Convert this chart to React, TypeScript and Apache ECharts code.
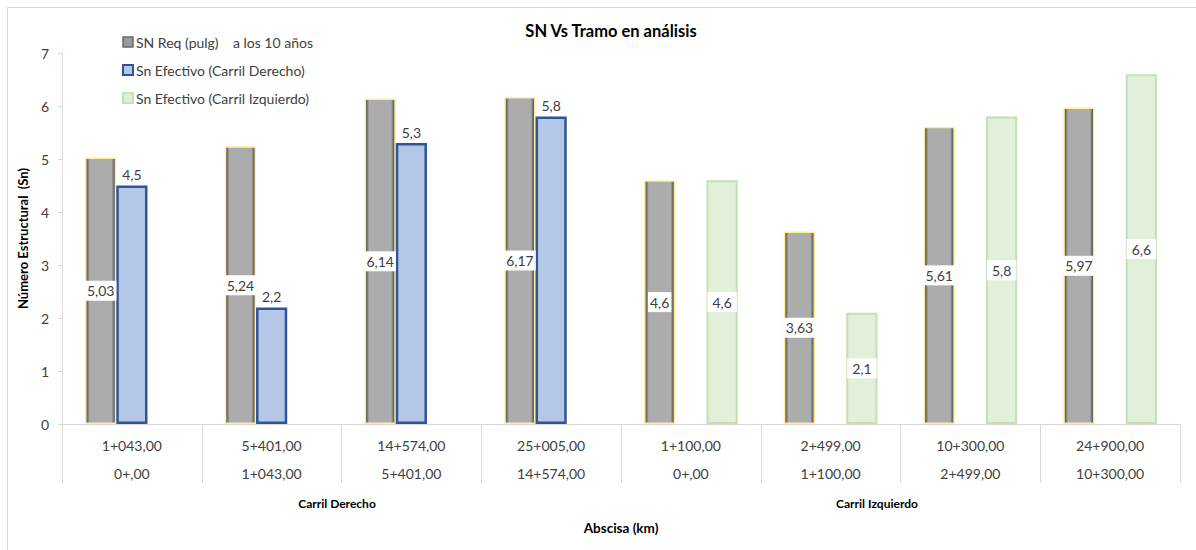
import React, { useEffect, useRef } from "react";
import * as echarts from "echarts";

// Tramo end (upper row) and start (lower row) for every section
const tramoFin = ["1+043,00", "5+401,00", "14+574,00", "25+005,00", "1+100,00", "2+499,00", "10+300,00", "24+900,00"];
const tramoInicio = ["0+,00", "1+043,00", "5+401,00", "14+574,00", "0+,00", "1+100,00", "2+499,00", "10+300,00"];

const snRequerido = [5.03, 5.24, 6.14, 6.17, 4.6, 3.63, 5.61, 5.97];
const snDerecho = [4.5, 2.2, 5.3, 5.8, null, null, null, null];
const snIzquierdo = [null, null, null, null, 4.6, 2.1, 5.8, 6.6];

const carriles = ["Carril Derecho", "Carril Izquierdo"];
const yTicks = { min: 0, max: 7, interval: 1 };

const FONT = "Lato, 'Noto Sans', sans-serif";
const fmt = (v: number) => String(v).replace(".", ",");

const NAME_REQ = "SN Req (pulg)\u00a0\u00a0\u00a0 a los 10 años";
const NAME_DER = "Sn Efectivo (Carril Derecho)";
const NAME_IZQ = "Sn Efectivo (Carril Izquierdo)";

export default function App() {
  const ref = useRef<HTMLDivElement>(null);

  useEffect(() => {
    if (!ref.current) return;
    const chart = echarts.init(ref.current, null, { renderer: "svg" });

    // bevelled grey column: dark edges, flat light centre
    const grayFill = new echarts.graphic.LinearGradient(0, 0, 1, 0, [
      { offset: 0, color: "#474747" },
      { offset: 0.07, color: "#777777" },
      { offset: 0.13, color: "#acacac" },
      { offset: 0.87, color: "#acacac" },
      { offset: 0.93, color: "#777777" },
      { offset: 1, color: "#3f3f3f" },
    ]);

    chart.setOption({
      animation: false,
      backgroundColor: "#ffffff",
      textStyle: { fontFamily: FONT },
      title: {
        text: "SN Vs Tramo en análisis",
        left: 606,
        top: 17,
        textAlign: "center",
        textStyle: { fontFamily: FONT, fontSize: 16.5, fontWeight: "bold", color: "#000000" },
      },
      legend: {
        orient: "vertical",
        left: 122,
        top: 34,
        padding: 0,
        itemWidth: 10,
        itemHeight: 10,
        itemGap: 12,
        icon: "rect",
        textStyle: { fontFamily: FONT, fontSize: 14, color: "#404040", lineHeight: 16, padding: [0, 0, 0, -2] },
        data: [
          { name: NAME_REQ, itemStyle: { color: "#9a9a9a", borderColor: "#6a6a6a", borderWidth: 1.5 } },
          { name: NAME_DER },
          { name: NAME_IZQ },
        ],
      },
      grid: { left: 62, right: 16, top: 53, bottom: 126 },
      xAxis: {
        type: "category",
        data: tramoFin,
        name: "Abscisa (km)",
        nameLocation: "middle",
        nameGap: 97,
        nameTextStyle: { fontFamily: FONT, fontSize: 13.5, fontWeight: "bold", color: "#000000" },
        axisLine: { lineStyle: { color: "#d9d9d9", width: 1 } },
        axisTick: { show: true, length: 59, interval: 0, lineStyle: { color: "#d9d9d9" } },
        axisLabel: {
          interval: 0,
          margin: 7,
          fontFamily: FONT,
          fontSize: 14,
          color: "#404040",
          lineHeight: 28,
          formatter: (v: string, i: number) => `${v}\n${tramoInicio[i]}`,
        },
      },
      yAxis: {
        type: "value",
        min: yTicks.min,
        max: yTicks.max,
        interval: yTicks.interval,
        name: "Número Estructural  (Sn)",
        nameLocation: "middle",
        nameGap: 19,
        nameRotate: 90,
        nameTextStyle: { fontFamily: FONT, fontSize: 13, fontWeight: "bold", color: "#000000" },
        axisLine: { show: true, lineStyle: { color: "#d9d9d9", width: 1 } },
        axisTick: { show: true, length: 4, lineStyle: { color: "#d9d9d9" } },
        splitLine: { show: false },
        axisLabel: { margin: 13, fontFamily: FONT, fontSize: 14, color: "#404040" },
      },
      series: [
        {
          name: NAME_REQ,
          type: "bar",
          data: snRequerido,
          barGap: "0%",
          barCategoryGap: "33%",
          itemStyle: { color: grayFill, borderColor: "#ffef99", borderWidth: 1.5 },
          label: {
            show: true,
            position: "inside",
            formatter: (p: any) => fmt(p.value),
            fontFamily: FONT,
            fontSize: 14,
            color: "#404040",
            backgroundColor: "#ffffff",
            padding: [3, 2],
          },
        },
        {
          name: NAME_DER,
          type: "bar",
          data: snDerecho,
          barGap: "0%",
          barCategoryGap: "33%",
          itemStyle: { color: "#b4c7e7", borderColor: "#2f5597", borderWidth: 2.5 },
          label: {
            show: true,
            position: "top",
            distance: 4,
            formatter: (p: any) => fmt(p.value),
            fontFamily: FONT,
            fontSize: 14,
            color: "#404040",
          },
        },
        {
          name: NAME_IZQ,
          type: "bar",
          data: snIzquierdo,
          barGap: "0%",
          barCategoryGap: "33%",
          itemStyle: { color: "#e2efda", borderColor: "#c5e0b4", borderWidth: 2 },
          label: {
            show: true,
            position: "inside",
            formatter: (p: any) => fmt(p.value),
            fontFamily: FONT,
            fontSize: 14,
            color: "#404040",
            backgroundColor: "#ffffff",
            padding: [3, 5],
          },
        },
      ],
      graphic: [
        {
          type: "rect",
          silent: true,
          shape: { x: 7.5, y: 7.5, width: 1200, height: 600 },
          style: { fill: "none", stroke: "#d9d9d9", lineWidth: 1 },
        },
        {
          type: "text",
          x: 337,
          y: 503,
          style: {
            text: carriles[0],
            textAlign: "center",
            textVerticalAlign: "middle",
            fontFamily: FONT,
            fontSize: 12,
            fontWeight: "bold",
            fill: "#000000",
          },
        },
        {
          type: "text",
          x: 877,
          y: 503,
          style: {
            text: carriles[1],
            textAlign: "center",
            textVerticalAlign: "middle",
            fontFamily: FONT,
            fontSize: 12,
            fontWeight: "bold",
            fill: "#000000",
          },
        },
      ],
    });

    return () => chart.dispose();
  }, []);

  return (
    <div
      ref={ref}
      style={{ position: "fixed", left: 0, top: 0, width: "1196px", height: "550px" }}
    />
  );
}
